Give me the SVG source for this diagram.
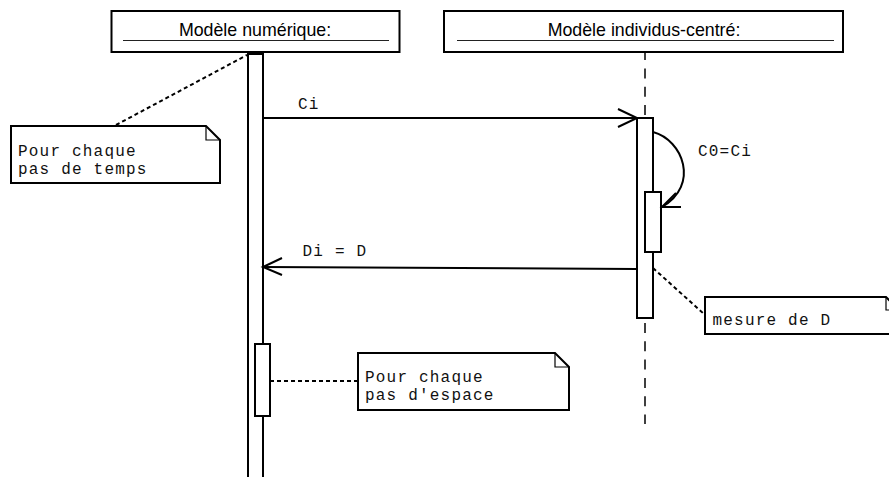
<svg xmlns="http://www.w3.org/2000/svg" width="889" height="477" viewBox="0 0 889 477">
<style>
.box{fill:#fff;stroke:#000;stroke-width:2}
.ul{stroke:#222;stroke-width:1}
.t{font-family:"Liberation Sans",Arial,sans-serif;font-size:17.8px;fill:#000}
.m{font-family:"Liberation Mono","Courier New",monospace;font-size:16px;letter-spacing:1.2px;fill:#111}
.life{fill:#fff;stroke:#000;stroke-width:2}
.act{fill:#fff;stroke:#000;stroke-width:2}
.msg{fill:none;stroke:#000;stroke-width:2}
.dot{fill:none;stroke:#000;stroke-width:2;stroke-dasharray:4 3}
.dash{fill:none;stroke:#000;stroke-width:1.5;stroke-dasharray:10 8.3}
.note{fill:#fff;stroke:#000;stroke-width:2}
.fold{fill:none;stroke:#000;stroke-width:1.2}
</style>
<g id="lifeline-numerique">
<rect class="life" x="248" y="54" width="15" height="440"/>
</g>
<g id="lifeline-individus">
<path class="dash" d="M645,115 L645,52"/>
<path class="dash" d="M645,323 L645,424"/>
</g>
<g id="obj-numerique">
<rect class="box" x="111.5" y="11" width="288" height="41"/>
<line class="ul" x1="123" y1="40.5" x2="389" y2="40.5"/>
<text class="t" x="255" y="36" text-anchor="middle">Modèle numérique:</text>
</g>
<g id="obj-individus">
<rect class="box" x="444" y="11" width="399" height="41"/>
<line class="ul" x1="457" y1="40.5" x2="834" y2="40.5"/>
<text class="t" x="644" y="36" text-anchor="middle">Modèle individus-centré:</text>
</g>
<g id="act-individus">
<rect class="act" x="637" y="118" width="16" height="200"/>
<rect class="act" x="645" y="192" width="16" height="60"/>
</g>
<g id="act-numerique">
<rect class="act" x="255" y="344" width="15" height="72"/>
</g>
<g id="connectors">
<line class="msg" x1="263" y1="118" x2="637" y2="118"/>
<polyline class="msg" points="618,109 637,118 618,127"/>
<path class="msg" d="M653,132 C683,140 700,185 662,207"/>
<polyline class="msg" points="681,207 662,207 676,193"/>
<line class="msg" x1="637" y1="269" x2="263" y2="267"/>
<polyline class="msg" points="282,258 263,267 282,275"/>
<line class="dot" x1="116" y1="125" x2="247" y2="55"/>
<line class="dot" x1="653" y1="268" x2="704" y2="314"/>
<line class="dot" x1="270" y1="381" x2="358" y2="381"/>
</g>
<g id="labels">
<text class="m" x="298" y="109">Ci</text>
<text class="m" x="698" y="156">C0=Ci</text>
<text class="m" x="302.5" y="256">Di = D</text>
</g>
<g id="note-temps">
<path class="note" d="M11,126 H206 L220,140 V183 H11 Z"/>
<path class="fold" d="M206,126 V140 H220"/>
<text class="m" x="18" y="156">Pour chaque</text>
<text class="m" x="18" y="173.5">pas de temps</text>
</g>
<g id="note-espace">
<path class="note" d="M358,353 H555 L569,367 V410 H358 Z"/>
<path class="fold" d="M555,353 V367 H569"/>
<text class="m" x="365" y="382">Pour chaque</text>
<text class="m" x="365" y="400">pas d'espace</text>
</g>
<g id="note-mesure">
<path class="note" d="M705,297 H886 L900,311 V334 H705 Z"/>
<path class="fold" d="M886,297 V310 H900"/>
<text class="m" x="712.5" y="325">mesure de D</text>
</g>
</svg>
